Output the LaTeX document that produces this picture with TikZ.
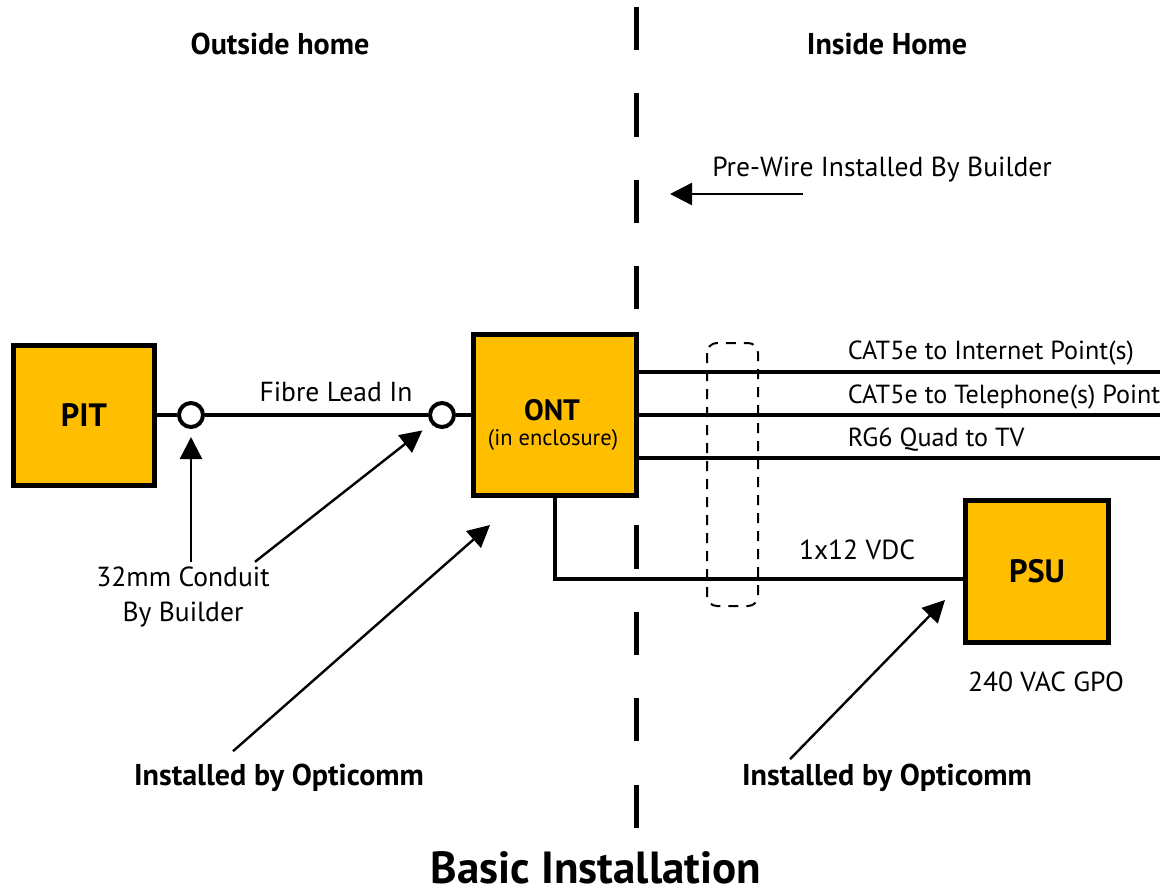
\documentclass[tikz,border=0pt]{standalone}
\usepackage{fontspec}
\setmainfont{PT Sans}
\usetikzlibrary{arrows.meta}
\definecolor{boxyellow}{RGB}{255,190,0}
\tikzset{
  unit/.style={draw,line width=1.25mm,fill=boxyellow,inner sep=0pt,font=\bfseries\fontsize{23}{26}\selectfont},
  wire/.style={line width=1mm},
  ring/.style={circle,draw,line width=1mm,fill=white,minimum size=6mm,inner sep=0pt},
  pointer/.style={line width=0.6mm,-{Triangle[length=5.5mm,width=5.5mm]}},
  txt/.style={font=\fontsize{19.6}{25}\selectfont,align=center},
  cable/.style={font=\fontsize{18.6}{22}\selectfont,anchor=west},
  head/.style={font=\bfseries\fontsize{21.4}{25}\selectfont}
}
\begin{document}
\begin{tikzpicture}[x=0.25mm,y=-0.25mm]
\useasboundingbox (0,0) rectangle (1160,894);
\draw[line width=1.25mm,dash pattern=on 10.8mm off 10.8mm](636,7)--(636,830);
\draw[line width=0.5mm,dash pattern=on 2.5mm off 2mm,rounded corners=2.5mm](707,343)rectangle(758,606);
\node[unit,minimum width=35.25mm,minimum height=35mm](pit)at(84,415){PIT};
\node[unit,minimum width=40.75mm,minimum height=40.25mm](ont)at(554.5,415){};
\node[font=\bfseries\fontsize{21}{21}\selectfont,inner sep=1pt](ontname)at(552,410){ONT};
\node[font=\fontsize{16}{16}\selectfont,inner sep=1pt](ontnote)at(553,440){(in enclosure)};
\node[unit,minimum width=35.75mm,minimum height=35.5mm](psu)at(1037,571.5){PSU};
\node[ring](c1)at(191,415){};
\node[ring](c2)at(442,415){};
\draw[wire](pit)--(c1)--(c2)--(ont);
\coordinate(w1)at(1160,372);
\coordinate(w2)at(1160,415);
\coordinate(w3)at(1160,458);
\draw[wire](ont.east|-w1)--(w1);
\draw[wire](ont.east|-w2)--(w2);
\draw[wire](ont.east|-w3)--(w3);
\draw[wire](ont.south)|-([yshift=-1.9mm]psu.west);
\node[cable](l1)at(843,353){CAT5e to Internet Point(s)};
\node[cable](l2)at(843,397){CAT5e to Telephone(s) Point};
\node[cable](l3)at(843,440){RG6 Quad to TV};
\node[txt](fibre)at(336,392){Fibre Lead In};
\node[txt](vdc)at(857,550){1x12 VDC};
\node[txt](gpo)at(1046,682){240 VAC GPO};
\node[head](outside)at(280,44){Outside home};
\node[head](inside)at(887,44){Inside Home};
\node[txt](prewire)at(882,170){Pre-Wire Installed By Builder};
\coordinate(pwtail)at(803,194);
\coordinate(pwtip)at(670,194);
\draw[pointer](pwtail)--(pwtip);
\node[txt](conduit)at(183,597){32mm Conduit\\By Builder};
\draw[pointer,shorten >=2mm](conduit.north-|c1)--(c1);
\draw[pointer,shorten >=2.75mm]([xshift=18mm]conduit.north)--(c2);
\node[head](inst1)at(279,778){Installed by Opticomm};
\node[head](inst2)at(887,778){Installed by Opticomm};
\coordinate(onttip)at(490,525);
\coordinate(psutip)at(945,600);
\draw[pointer]([shift={(-11.5mm,2mm)}]inst1.north)--(onttip);
\draw[pointer]([shift={(-24.25mm,0mm)}]inst2.north)--(psutip);
\node[font=\bfseries\fontsize{32}{32}\selectfont](title)at(596,868){Basic Installation};
\end{tikzpicture}
\end{document}
